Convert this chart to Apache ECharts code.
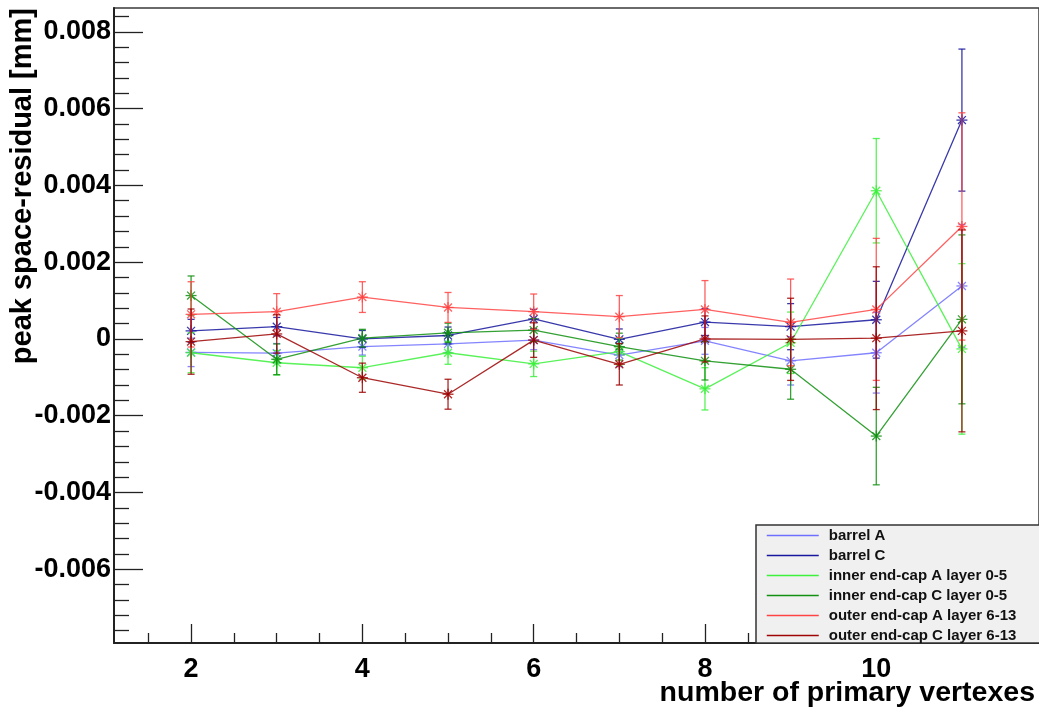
<!DOCTYPE html>
<html>
<head>
<meta charset="utf-8">
<script src="https://cdn.jsdelivr.net/npm/echarts@6/dist/echarts.min.js"></script>
<style>
  html, body { margin: 0; padding: 0; background: #fff; }
  #chart { width: 1039px; height: 713px; }
</style>
</head>
<body>
<div id="chart"></div>
<script>
// Number of primary vertexes
const vertexCounts = [2, 3, 4, 5, 6, 7, 8, 9, 10, 11];

// Peak space-residual [mm] per detector region
const barrelA = [-0.00035, -0.00037, -0.00020, -0.00013, -0.00003, -0.00042, -0.00005, -0.00057, -0.00036, 0.00138];
const barrelC = [0.00021, 0.00032, 0.00000, 0.00009, 0.00052, -0.00001, 0.00044, 0.00032, 0.00050, 0.00570];
const innerA = [-0.00036, -0.00062, -0.00075, -0.00036, -0.00065, -0.00033, -0.00130, -0.00010, 0.00386, -0.00026];
const innerC = [0.00113, -0.00053, 0.00002, 0.00016, 0.00023, -0.00020, -0.00057, -0.00079, -0.00253, 0.00051];
const outerA = [0.00064, 0.00071, 0.00109, 0.00082, 0.00071, 0.00058, 0.00077, 0.00043, 0.00077, 0.00293];
const outerC = [-0.00007, 0.00013, -0.00101, -0.00144, -0.00003, -0.00066, 0.00000, -0.00001, 0.00002, 0.00021];

// Symmetric uncertainties
const barrelAErr = [0.00037, 0.00025, 0.00022, 0.00022, 0.00025, 0.00030, 0.00035, 0.00063, 0.00105, 0.00160];
const barrelCErr = [0.00030, 0.00024, 0.00022, 0.00022, 0.00025, 0.00027, 0.00035, 0.00060, 0.00100, 0.00185];
const innerAErr = [0.00052, 0.00032, 0.00030, 0.00030, 0.00033, 0.00035, 0.00055, 0.00080, 0.00136, 0.00222];
const innerCErr = [0.00051, 0.00040, 0.00023, 0.00025, 0.00030, 0.00035, 0.00050, 0.00078, 0.00127, 0.00220];
const outerAErr = [0.00085, 0.00047, 0.00040, 0.00039, 0.00046, 0.00055, 0.00075, 0.00113, 0.00185, 0.00296];
const outerCErr = [0.00085, 0.00050, 0.00038, 0.00039, 0.00045, 0.00054, 0.00060, 0.00107, 0.00186, 0.00263];

const seriesNames = [
  'barrel A', 'barrel C',
  'inner end-cap A layer 0-5', 'inner end-cap C layer 0-5',
  'outer end-cap A layer 6-13', 'outer end-cap C layer 6-13'
];

// Axis tick labels
const xTickLabels = [2, 4, 6, 8, 10];
const yTickLabels = [-0.006, -0.004, -0.002, 0, 0.002, 0.004, 0.006, 0.008];

const colors = ['#6f6fff', '#16169e', '#3cf03c', '#119011', '#ff4444', '#9e0404'];
const values = [barrelA, barrelC, innerA, innerC, outerA, outerC];
const errors = [barrelAErr, barrelCErr, innerAErr, innerCErr, outerAErr, outerCErr];

const X_MIN = 1.1, X_MAX = 11.9;
const Y_MIN = -0.00792, Y_MAX = 0.00862;

// minor tick positions
const xMinor = [];
for (let k = 3; k <= 23; k++) { const v = k / 2; if (v % 2 !== 0) xMinor.push(v); }
const yMinor = [];
for (let k = -19; k <= 21; k++) { if (k % 5 !== 0) yMinor.push(+(k * 0.0004).toFixed(4)); }

const FONT = '"Liberation Sans", Arial, Helvetica, sans-serif';

function errorSeries(idx) {
  const color = colors[idx];
  return {
    type: 'custom',
    name: seriesNames[idx] + ' points',
    xAxisIndex: 0, yAxisIndex: 0,
    z: 3,
    silent: true,
    data: vertexCounts.map((x, i) => [x, values[idx][i], errors[idx][i]]),
    renderItem(params, api) {
      const x = api.value(0), y = api.value(1), e = api.value(2);
      const p = api.coord([x, y]);
      const hi = api.coord([x, y + e]);
      const lo = api.coord([x, y - e]);
      const cap = 3.5, r = 5.5, d = r * 0.72;
      const st = { stroke: color, lineWidth: 1.3, opacity: 0.85 };
      const seg = (x1, y1, x2, y2) => ({ type: 'line', shape: { x1, y1, x2, y2 }, style: st });
      return {
        type: 'group',
        children: [
          seg(p[0], hi[1], p[0], lo[1]),
          seg(p[0] - cap, hi[1], p[0] + cap, hi[1]),
          seg(p[0] - cap, lo[1], p[0] + cap, lo[1]),
          seg(p[0] - r, p[1], p[0] + r, p[1]),
          seg(p[0], p[1] - r, p[0], p[1] + r),
          seg(p[0] - d, p[1] - d, p[0] + d, p[1] + d),
          seg(p[0] - d, p[1] + d, p[0] + d, p[1] - d)
        ]
      };
    }
  };
}

function lineSeries(idx) {
  return {
    type: 'line',
    name: seriesNames[idx],
    xAxisIndex: 0, yAxisIndex: 0,
    symbol: 'none',
    z: 2,
    silent: true,
    lineStyle: { color: colors[idx], width: 1.3, opacity: 0.85 },
    itemStyle: { color: colors[idx] },
    data: vertexCounts.map((x, i) => [x, values[idx][i]])
  };
}

const series = [];
for (let i = 0; i < 6; i++) series.push(lineSeries(i));
for (let i = 0; i < 6; i++) series.push(errorSeries(i));

const chart = echarts.init(document.getElementById('chart'), null, { renderer: 'canvas' });
chart.setOption({
  animation: false,
  backgroundColor: '#ffffff',
  grid: {
    left: 114, top: 8, width: 930, height: 635,
    show: true, borderColor: '#3a3a3a', borderWidth: 1.5, backgroundColor: 'transparent'
  },
  xAxis: [
    {
      type: 'value', min: X_MIN, max: X_MAX, position: 'bottom',
      axisLine: { show: true, onZero: false, lineStyle: { color: '#222', width: 2 } },
      axisTick: { show: true, inside: true, length: 19, customValues: xTickLabels, lineStyle: { color: '#222', width: 1.3 } },
      axisLabel: {
        customValues: xTickLabels, margin: 13,
        fontFamily: FONT, fontWeight: 'bold', fontSize: 27, color: '#000'
      },
      splitLine: { show: false }
    },
    {
      type: 'value', min: X_MIN, max: X_MAX, position: 'bottom', offset: 0,
      axisLine: { show: false, onZero: false },
      axisTick: { show: true, inside: true, length: 10, customValues: xMinor, lineStyle: { color: '#222', width: 1.3 } },
      axisLabel: { show: false },
      splitLine: { show: false }
    }
  ],
  yAxis: [
    {
      type: 'value', min: Y_MIN, max: Y_MAX, position: 'left',
      axisLine: { show: true, onZero: false, lineStyle: { color: '#222', width: 2 } },
      axisTick: { show: true, inside: true, length: 29, customValues: yTickLabels, lineStyle: { color: '#222', width: 1.3 } },
      axisLabel: {
        customValues: yTickLabels, margin: 3,
        fontFamily: FONT, fontWeight: 'bold', fontSize: 27, color: '#000',
        formatter: v => (Math.abs(v) < 1e-12 ? '0' : v.toFixed(3))
      },
      splitLine: { show: false }
    },
    {
      type: 'value', min: Y_MIN, max: Y_MAX, position: 'left', offset: 0,
      axisLine: { show: false, onZero: false },
      axisTick: { show: true, inside: true, length: 15, customValues: yMinor, lineStyle: { color: '#222', width: 1.3 } },
      axisLabel: { show: false },
      splitLine: { show: false }
    }
  ],
  legend: {
    orient: 'vertical',
    left: 766, top: 528,
    padding: 0,
    itemWidth: 52, itemHeight: 14, itemGap: 5.0,
    z: 10,
    data: seriesNames,
    selectedMode: false,
    itemStyle: { opacity: 0 },
    lineStyle: { width: 1.5, opacity: 1 },
    textStyle: {
      fontFamily: FONT, fontWeight: 'bold', fontSize: 15, color: '#111',
      lineHeight: 14, padding: [0, 0, 0, 5]
    }
  },
  graphic: [
    {
      type: 'rect', z: 5,
      shape: { x: 756, y: 525, width: 300, height: 118 },
      style: { fill: '#f0f0f0', stroke: '#333', lineWidth: 1.5 }
    },
    {
      type: 'text', z: 6,
      x: 1035, y: 693,
      style: {
        text: 'number of primary vertexes',
        fontFamily: FONT, fontWeight: 'bold', fontSize: 28.5, fill: '#000',
        align: 'right', verticalAlign: 'middle'
      }
    },
    {
      type: 'text', z: 6,
      x: 23, y: 8, rotation: Math.PI / 2,
      style: {
        text: 'peak space-residual [mm]',
        fontFamily: FONT, fontWeight: 'bold', fontSize: 29, fill: '#000',
        align: 'right', verticalAlign: 'middle'
      }
    }
  ],
  series
});
</script>
</body>
</html>
